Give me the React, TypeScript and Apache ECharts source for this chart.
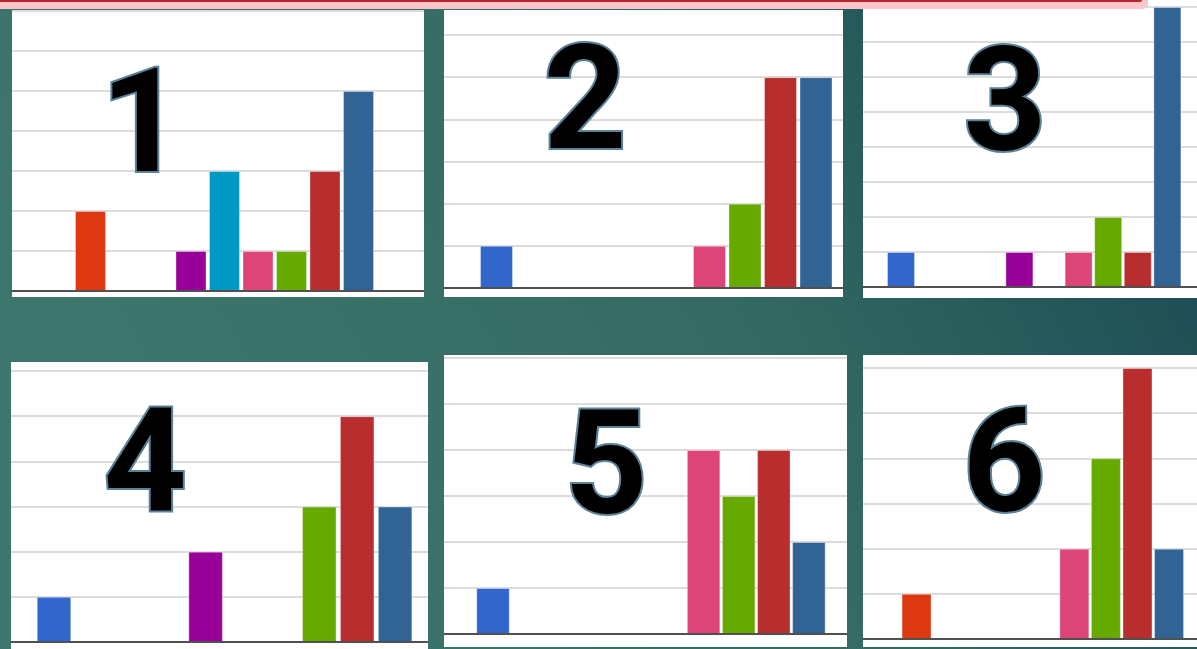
import React, { useEffect, useRef } from "react";
import * as echarts from "echarts";

// ---- data ----
const slotNames = ["blue", "orange", "amber", "green", "purple", "cyan", "pink", "lime", "red", "navy"];
const palette = ["#3366cc", "#dc3912", "#ff9900", "#109618", "#990099", "#0099c6", "#dd4477", "#66aa00", "#b82e2e", "#316395"];
const panelLabels = ["1", "2", "3", "4", "5", "6"];
const panel1Values = [0, 2, 0, 0, 1, 3, 1, 1, 3, 5];
const panel2Values = [1, 0, 0, 0, 0, 0, 1, 2, 5, 5];
const panel3Values = [1, 0, 0, 0, 1, 0, 1, 2, 1, 8];
const panel4Values = [1, 0, 0, 0, 2, 0, 0, 3, 5, 3];
const panel5Values = [1, 0, 0, 0, 0, 0, 4, 3, 4, 2];
const panel6Values = [0, 1, 0, 0, 0, 0, 2, 4, 6, 2];
const panelMax = [7, 6, 8, 6, 6, 6];
const allValues = [panel1Values, panel2Values, panel3Values, panel4Values, panel5Values, panel6Values];

// ---- layout ----
const layout = [
  { left: 12, right: 424, top: 11, bottom: 291, c0: 57, step: 33.5, barW: 31, wx: 12, wy: 10, wr: 424, wb: 297, nx: 142, ny: 120 },
  { left: 444, right: 843, top: 35, bottom: 288, c0: 496.5, step: 35.5, barW: 33, wx: 444, wy: 10, wr: 843, wb: 297, nx: 585, ny: 97 },
  { left: 863, right: 1197, top: 7, bottom: 287, c0: 901, step: 29.6, barW: 28, wx: 863, wy: 0, wr: 1197, wb: 298, nx: 1005, ny: 99 },
  { left: 11, right: 428, top: 371, bottom: 642, c0: 54, step: 37.9, barW: 34.5, wx: 11, wy: 362, wr: 428, wb: 649, nx: 145, ny: 460 },
  { left: 444, right: 847, top: 358, bottom: 634, c0: 493, step: 35.1, barW: 33.5, wx: 444, wy: 355, wr: 847, wb: 647, nx: 606, ny: 462 },
  { left: 863, right: 1197, top: 368, bottom: 639, c0: 885, step: 31.56, barW: 30, wx: 863, wy: 355, wr: 1197, wb: 647, nx: 1004, ny: 460 },
];

export default function App() {
  const ref = useRef<HTMLDivElement>(null);
  useEffect(() => {
    if (!ref.current) return;
    const chart = echarts.init(ref.current, undefined, { renderer: "svg" });
    const elements: any[] = [];
    elements.push({
      type: "rect",
      z: -30,
      silent: true,
      shape: { x: 0, y: 0, width: 1197, height: 649 },
      style: {
        fill: new echarts.graphic.LinearGradient(0, 0.3, 1, 0, [
          { offset: 0, color: "#3d766c" },
          { offset: 0.5, color: "#346a63" },
          { offset: 1, color: "#184650" },
        ]),
      },
    });
    layout.forEach((p) => {
      elements.push({
        type: "rect",
        z: -20,
        silent: true,
        shape: { x: p.wx, y: p.wy, width: p.wr - p.wx, height: p.wb - p.wy },
        style: { fill: "#ffffff" },
      });
    });
    // top pink strip
    elements.push({
      type: "rect",
      z: 50,
      silent: true,
      shape: { x: -10, y: -10, width: 1158, height: 19, r: 5 },
      style: { fill: "#f9c7c9" },
    });
    elements.push({
      type: "rect",
      z: 51,
      silent: true,
      shape: { x: -10, y: -10, width: 1152, height: 12, r: 2 },
      style: { fill: "#b8262b" },
    });
    layout.forEach((p, i) => {
      elements.push({
        type: "text",
        z: 100,
        silent: true,
        style: {
          text: panelLabels[i],
          x: p.nx,
          y: p.ny + 1,
          fill: "#000000",
          stroke: "#5b8299",
          lineWidth: 4,
          font: "bold 145px Roboto, 'DejaVu Sans', sans-serif",
          textAlign: "center",
          textVerticalAlign: "middle",
          shadowBlur: 6,
          shadowColor: "rgba(0,0,0,0.45)",
          shadowOffsetX: 2,
          shadowOffsetY: 4,
        },
      });
    });

    const option: any = {
      animation: false,
      graphic: { elements },
      grid: layout.map((p) => ({
        left: p.left,
        top: p.top,
        width: p.right - p.left,
        height: p.bottom - p.top,
        containLabel: false,
      })),
      xAxis: layout.map((p, i) => ({
        type: "value",
        gridIndex: i,
        min: (p.left - p.c0) / p.step,
        max: (p.right - p.c0) / p.step,
        axisLabel: { show: false },
        axisTick: { show: false },
        splitLine: { show: false },
        axisLine: { show: true, onZero: false, lineStyle: { color: "#505050", width: 2 } },
        z: 5,
      })),
      yAxis: layout.map((p, i) => ({
        type: "value",
        gridIndex: i,
        min: 0,
        max: panelMax[i],
        interval: 1,
        axisLabel: { show: false },
        axisTick: { show: false },
        axisLine: { show: false },
        splitLine: { lineStyle: { color: "#dcdcdc", width: 2 } },
      })),
      series: layout.map((p, i) => ({
        type: "bar",
        name: "panel " + panelLabels[i],
        xAxisIndex: i,
        yAxisIndex: i,
        barWidth: p.barW,
        data: allValues[i]
          .map((v, k) =>
            v
              ? {
                  name: slotNames[k],
                  value: [k, v],
                  itemStyle: { color: palette[k], borderColor: "rgba(255,255,255,0.35)", borderWidth: 1 },
                }
              : null
          )
          .filter((d) => d !== null),
      })),
    };
    chart.setOption(option);
    return () => chart.dispose();
  }, []);
  return <div ref={ref} style={{ position: "fixed", left: 0, top: 0, width: 1197, height: 649 }} />;
}
